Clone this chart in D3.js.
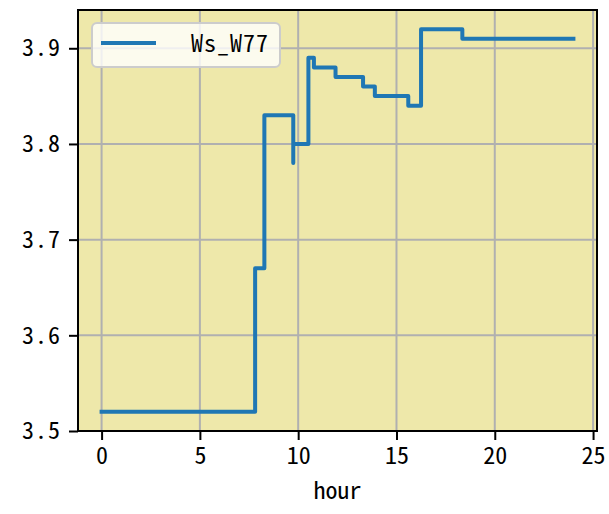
<!DOCTYPE html>
<html>
<head>
<meta charset="utf-8">
<script src="https://cdn.jsdelivr.net/npm/d3@7"></script>
<style>
  html, body { margin: 0; padding: 0; background: #ffffff; }
  svg { display: block; }
  text { font-family: "Noto Sans Mono CJK SC", "Noto Sans CJK SC", "DejaVu Sans Mono", monospace; }
</style>
</head>
<body>
<svg id="chart" width="609" height="514"></svg>
<script>
// ---- data ----
const seriesName = "Ws_W77";
const hours  = [0, 7.81, 8.28, 9.75, 9.75, 10.52, 10.8, 11.9, 13.3, 13.9, 15.6, 16.25, 18.35, 24];
const values = [3.52, 3.67, 3.83, 3.78, 3.80, 3.89, 3.88, 3.87, 3.86, 3.85, 3.84, 3.92, 3.91, 3.91];
const xTicks = [0, 5, 10, 15, 20, 25];
const yTicks = [3.5, 3.6, 3.7, 3.8, 3.9];
const yTickLabels = ["3.5", "3.6", "3.7", "3.8", "3.9"];
const xLabel = "hour";

const W = 609, H = 514;
const plot = { left: 78, right: 597, top: 10, bottom: 431 };
const FONT = "'Noto Sans Mono CJK SC', 'Noto Sans CJK SC', monospace";
const FS = 24;

const svg = d3.select("#chart");

const x = d3.scaleLinear().domain([-1.2, 25.2]).range([plot.left, plot.right]);
const y = d3.scaleLinear().domain([3.5, 3.94]).range([plot.bottom, plot.top]);

// background
svg.append("rect")
  .attr("x", plot.left).attr("y", plot.top)
  .attr("width", plot.right - plot.left).attr("height", plot.bottom - plot.top)
  .attr("fill", "#eee8aa");

// grid
const grid = svg.append("g");
grid.selectAll("line.vx").data(xTicks).join("line")
  .attr("x1", d => x(d)).attr("x2", d => x(d))
  .attr("y1", plot.top).attr("y2", plot.bottom)
  .attr("stroke", "#b0b0b0").attr("stroke-width", 2);
grid.selectAll("line.hy").data(yTicks).join("line")
  .attr("x1", plot.left).attr("x2", plot.right)
  .attr("y1", d => y(d)).attr("y2", d => y(d))
  .attr("stroke", "#b0b0b0").attr("stroke-width", 2);

// line
const pts = hours.map((h, i) => [h, values[i]]);
const line = d3.line().x(d => x(d[0])).y(d => y(d[1])).curve(d3.curveStepAfter);
svg.append("path")
  .attr("d", line(pts))
  .attr("fill", "none")
  .attr("stroke", "#1f77b4")
  .attr("stroke-width", 4)
  .attr("stroke-linejoin", "round")
  .attr("stroke-linecap", "square");

// axes
const xAxis = d3.axisBottom(x).tickValues(xTicks).tickSize(9).tickPadding(7).tickFormat(d3.format("d"));
const gx = svg.append("g").attr("transform", `translate(0,${plot.bottom})`).call(xAxis);
gx.select(".domain").remove();
gx.selectAll(".tick line").attr("stroke", "#000").attr("stroke-width", 2);
gx.selectAll(".tick text").attr("font-size", FS).attr("fill", "#000").attr("font-family", FONT);

const yAxis = d3.axisLeft(y).tickValues(yTicks).tickSize(9).tickPadding(8)
  .tickFormat((d, i) => yTickLabels[i]);
const gy = svg.append("g").attr("transform", `translate(${plot.left},0)`).call(yAxis);
gy.select(".domain").remove();
gy.selectAll(".tick line").attr("stroke", "#000").attr("stroke-width", 2);
gy.selectAll(".tick text").attr("font-size", FS).attr("fill", "#000")
  .attr("letter-spacing", "1px").attr("font-family", FONT);

// frame
svg.append("rect")
  .attr("x", plot.left).attr("y", plot.top)
  .attr("width", plot.right - plot.left).attr("height", plot.bottom - plot.top)
  .attr("fill", "none").attr("stroke", "#000").attr("stroke-width", 2);

// x label
svg.append("text")
  .attr("x", (plot.left + plot.right) / 2).attr("y", 499)
  .attr("text-anchor", "middle").attr("font-size", FS).attr("fill", "#000")
  .attr("font-family", FONT)
  .text(xLabel);

// legend
const lg = svg.append("g");
lg.append("rect")
  .attr("x", 92).attr("y", 23).attr("width", 188).attr("height", 44).attr("rx", 5)
  .attr("fill", "#ffffff").attr("fill-opacity", 0.8)
  .attr("stroke", "#cccccc").attr("stroke-width", 2);
lg.append("line")
  .attr("x1", 101).attr("x2", 156).attr("y1", 43).attr("y2", 43)
  .attr("stroke", "#1f77b4").attr("stroke-width", 4);
lg.append("text")
  .attr("x", 191).attr("y", 52)
  .attr("font-size", FS).attr("fill", "#000").attr("font-family", FONT)
  .attr("letter-spacing", "1px")
  .text(seriesName);
</script>
</body>
</html>
